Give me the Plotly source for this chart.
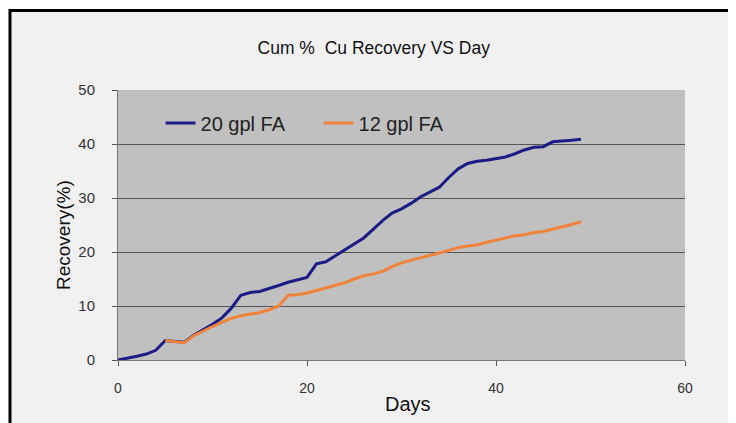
import plotly.graph_objects as go

days_20 = list(range(0, 50))
rec_20 = [0, 0.3, 0.7, 1.1, 1.8, 3.6, 3.5, 3.3, 4.6, 5.6,
          6.6, 7.8, 9.6, 12.0, 12.5, 12.7, 13.2, 13.8, 14.4, 14.8,
          15.3, 17.8, 18.2, 19.3, 20.4, 21.4, 22.6, 24.2, 25.8, 27.2,
          28.0, 29.0, 30.2, 31.1, 32.0, 33.8, 35.4, 36.4, 36.8, 37.0,
          37.3, 37.6, 38.2, 38.9, 39.4, 39.5, 40.4, 40.5, 40.7, 40.9]

days_12 = list(range(5, 50))
rec_12 = [3.6, 3.4, 3.2, 4.5, 5.4, 6.2, 7.0, 7.7, 8.2, 8.5,
          8.8, 9.3, 10.0, 12.0, 12.1, 12.4, 12.9, 13.4, 13.8, 14.3,
          15.0, 15.6, 15.9, 16.4, 17.3, 18.0, 18.5, 18.9, 19.4, 19.8,
          20.3, 20.8, 21.1, 21.3, 21.8, 22.2, 22.6, 23.0, 23.2, 23.6,
          23.8, 24.2, 24.7, 25.1, 25.6]

FONT = "Liberation Sans, Arial, sans-serif"

fig = go.Figure()
fig.add_trace(go.Scatter(x=days_20, y=rec_20, mode="lines", name="20 gpl FA",
                         line=dict(color="#1c1c86", width=3)))
fig.add_trace(go.Scatter(x=days_12, y=rec_12, mode="lines", name="12 gpl FA",
                         line=dict(color="#f0823a", width=3)))

# outer frame
fig.add_shape(type="rect", xref="paper", yref="paper",
              x0=-0.1905, x1=1.1, y0=-0.26, y1=1.294,
              line=dict(color="black", width=3), fillcolor="#f1f1f1", layer="below")
# plot area background
fig.add_shape(type="rect", xref="paper", yref="paper",
              x0=0, x1=1, y0=0, y1=1,
              line=dict(width=0), fillcolor="#c0c0c0", layer="below")

# axis titles
fig.add_annotation(text="Days", xref="paper", yref="paper",
                   x=(408 - 118) / 567, y=(360 - 404) / 270,
                   xanchor="center", yanchor="middle", showarrow=False,
                   font=dict(size=20, color="#111"))
fig.add_annotation(text="Recovery(%)", xref="paper", yref="paper",
                   x=(64 - 118) / 567, y=(360 - 235) / 270, textangle=-90,
                   xanchor="center", yanchor="middle", showarrow=False,
                   font=dict(size=19, color="#111"))

fig.update_layout(
    width=736, height=423,
    margin=dict(l=110, r=59, t=82, b=71),
    paper_bgcolor="white",
    plot_bgcolor="rgba(0,0,0,0)",
    font=dict(family=FONT, color="#222"),
    title=dict(text="Cum %  Cu Recovery VS Day", x=0.497, xanchor="center",
               y=0.905, yanchor="middle", font=dict(size=17.5, color="#111")),
    showlegend=True,
    legend=dict(orientation="h", x=0.075, y=0.878, xanchor="left", yanchor="middle",
                bgcolor="rgba(0,0,0,0)", font=dict(size=20, color="#222"),
                entrywidth=113, itemwidth=30),
    xaxis=dict(range=[0, 60], tickvals=[0, 20, 40, 60], showgrid=False,
               zeroline=False, showline=True, linecolor="#777", linewidth=1,
               ticks="outside", ticklen=5, tickcolor="#555",
               tickfont=dict(size=14, color="#333"), ticklabelstandoff=10),
    yaxis=dict(range=[0, 50], tickvals=[0, 10, 20, 30, 40, 50],
               showgrid=True, gridcolor="#555", gridwidth=1.3,
               zeroline=False, showline=True, linecolor="#777", linewidth=1,
               ticks="outside", ticklen=5, tickcolor="#555",
               tickfont=dict(size=15, color="#333"), ticklabelstandoff=14),
)

fig.write_html("out.html")
